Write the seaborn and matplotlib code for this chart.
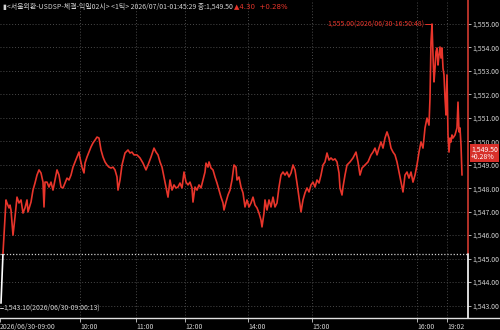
import matplotlib
matplotlib.use("Agg")
import matplotlib.pyplot as plt
import seaborn as sns
import pandas as pd
from matplotlib.patches import Rectangle
from matplotlib.lines import Line2D

# ---------------- data ----------------
tick_no = [1,3,5,6,7,9,10,11,13,15,17,19,21,23,25,27,28,30,31,33,35,37,39,41,43,44,45,47,49,51,53,55,57,59,61,63,65,67,69,71,73,75,77,79,80,82,84,85,87,89,91,93,95,97,99,101,103,105,107,109,111,113,115,117,118,120,122,125,128,130,132,134,137,140,143,146,148,151,154,156,158,160,162,164,166,168,170,172,174,176,178,180,182,184,186,188,190,192,193,195,197,199,201,203,205,206,208,209,211,213,215,217,219,221,223,224,226,228,230,232,234,236,237,239,241,243,245,247,249,251,253,255,257,259,261,262,264,265,267,269,271,273,275,277,279,281,283,285,287,289,291,293,295,297,299,301,303,305,307,309,311,313,315,317,319,321,323,325,327,329,331,333,335,337,339,340,342,343,345,347,350,353,356,358,360,362,365,368,371,373,375,377,379,381,383,385,387,389,391,393,395,397,399,401,403,405,407,409,411,413,415,417,419,421,423,425,427,429,430,431,432,433,434,435,436,437,438,439,440,441,442,443,444,445,446,447,448,449,450,451,452,453,455,457,458,459,460,461,462]
price = [1543.10,1545.24,1546.77,1547.50,1547.37,1547.16,1547.28,1547.07,1546.00,1546.77,1547.62,1547.37,1547.50,1546.94,1547.16,1547.50,1546.99,1547.28,1547.41,1547.92,1548.22,1548.56,1548.78,1548.65,1548.26,1547.20,1548.26,1548.26,1548.05,1548.26,1547.92,1548.35,1548.78,1548.56,1548.05,1548.01,1548.22,1548.43,1548.35,1548.56,1548.90,1549.12,1549.33,1549.54,1549.29,1548.90,1548.65,1549.07,1549.33,1549.54,1549.76,1549.93,1550.05,1550.18,1550.14,1549.63,1549.33,1549.12,1548.99,1548.90,1548.86,1548.90,1548.78,1548.48,1547.92,1548.35,1548.99,1549.50,1549.63,1549.50,1549.54,1549.42,1549.42,1549.29,1549.07,1548.78,1548.99,1549.33,1549.71,1549.54,1549.42,1549.12,1548.90,1548.48,1548.05,1547.62,1548.35,1547.92,1548.14,1548.01,1548.05,1548.22,1548.01,1548.69,1548.26,1548.14,1548.26,1548.01,1547.41,1548.05,1547.92,1548.14,1548.01,1548.35,1548.69,1549.07,1548.90,1549.12,1548.86,1548.78,1548.48,1548.22,1547.92,1547.62,1547.37,1547.07,1547.41,1547.71,1547.92,1548.35,1548.99,1548.90,1548.35,1548.48,1548.05,1547.80,1547.20,1547.50,1547.20,1547.37,1547.62,1547.28,1547.16,1546.94,1546.64,1546.35,1546.94,1547.50,1547.07,1547.50,1547.20,1547.62,1547.20,1547.37,1548.05,1548.56,1548.69,1548.56,1548.69,1548.48,1548.65,1548.99,1548.78,1548.22,1547.62,1546.99,1547.50,1547.80,1548.01,1547.84,1548.14,1548.26,1548.05,1548.35,1548.22,1548.56,1548.99,1549.12,1549.50,1549.20,1549.29,1549.20,1549.25,1549.12,1548.65,1548.01,1547.71,1548.05,1548.56,1548.99,1549.12,1549.29,1549.54,1549.12,1548.56,1548.86,1548.99,1549.12,1549.42,1549.54,1549.71,1549.42,1549.71,1549.97,1549.71,1550.14,1550.40,1550.14,1549.71,1549.54,1549.42,1549.12,1548.69,1548.26,1547.84,1548.56,1548.69,1548.43,1548.69,1548.26,1548.56,1548.99,1549.54,1549.97,1549.71,1550.57,1550.99,1550.69,1551.85,1554.23,1555.00,1553.68,1552.53,1553.12,1553.81,1553.98,1553.25,1553.68,1554.02,1553.55,1553.98,1553.12,1552.83,1551.85,1551.12,1552.83,1550.27,1549.54,1550.14,1549.97,1550.27,1550.14,1550.27,1550.57,1551.67,1550.40,1550.57,1549.84,1548.56]

time_ticks = [0, 80, 136, 185, 248, 312, 417, 447]
time_labels = ["2026/06/30-09:00", "10:00", "11:00", "12:00", "14:00", "15:00", "16:00", "19:02"]
price_ticks = [1543, 1544, 1545, 1546, 1547, 1548, 1549, 1550, 1551, 1552, 1553, 1554, 1555]
prev_close = 1545.20
last_price = 1549.50
change = 4.30
change_pct = 0.28
high_price = 1555.00
high_tick = 432
low_price = 1543.10
low_tick = 1

RED = "#e8352b"
GRID = "#4a4a4a"
TXT = "#d2d2d2"
FS = 5.0

# ---------------- figure ----------------
sns.set_theme(style="dark")
plt.rcParams['font.family'] = ['Noto Sans CJK KR', 'DejaVu Sans']
fig = plt.figure(figsize=(5, 3.3), dpi=100, facecolor="black")
ax = fig.add_axes([0, 12 / 330, 468 / 500, 318 / 330])
ax.set_facecolor("black")

ymin = 1543 - (318 - 305.5) / 23.46
ymax = 1555 + 24 / 23.46
ax.set_xlim(0, 468)
ax.set_ylim(ymin, ymax)

df = pd.DataFrame({"tick": tick_no, "price": price})
# white part (below previous close)
sns.lineplot(data=df, x="tick", y="price", ax=ax, color="white", lw=1.2,
             estimator=None, sort=False)
white_line = ax.lines[-1]
white_line.set_clip_path(Rectangle((0, ymin), 500, prev_close - ymin, transform=ax.transData))
sns.lineplot(data=df, x="tick", y="price", ax=ax, color=RED, lw=1.2,
             estimator=None, sort=False)
red_line = ax.lines[-1]
red_line.set_clip_path(Rectangle((0, prev_close), 500, 20, transform=ax.transData))

# grid
for p in price_ticks:
    ax.axhline(p, color=GRID, lw=0.7, ls=(0, (1, 2)), zorder=0)
for t in time_ticks[1:]:
    ax.axvline(t, color=GRID, lw=0.7, ls=(0, (1, 2)), zorder=0)
ax.axhline(prev_close, color="#cfcfcf", lw=0.9, ls=(0, (1, 1.5)), zorder=1)

for s in ax.spines.values():
    s.set_visible(False)

# right edge line: red above prev close, white below
ax.plot([468, 468], [prev_close, ymax], color="#d33a30", lw=1.2, clip_on=False)
ax.plot([468, 468], [ymin, prev_close], color="white", lw=1.2, clip_on=False)
# bottom axis line spans whole figure
fig.add_artist(Line2D([0, 1], [12.5 / 330, 12.5 / 330], color="#e0e0e0", lw=1.0))

# y ticks on right
ax.yaxis.tick_right()
ax.set_yticks(price_ticks)
ax.set_yticklabels([f"{p:,.2f}" for p in price_ticks])
ax.tick_params(axis="y", colors=TXT, labelsize=FS, length=2, width=0.6, pad=1.5, right=True)

# x ticks
ax.set_xticks(time_ticks)
ax.set_xticklabels(time_labels)
ax.tick_params(axis="x", colors=TXT, labelsize=FS, length=3, width=0.6, pad=0.5, bottom=True)
for lab in ax.get_xticklabels():
    lab.set_horizontalalignment("left")
ax.set_xlabel("")
ax.set_ylabel("")

# header text
hdr = ax.text(3, 1555.75, "▮<서울외환-USDSP-체결-익일02시> <1틱> 2026/07/01-01:45:29 종:1,549.50 ",
              color=TXT, fontsize=FS, va="center", ha="left")
fig.canvas.draw()
bb = hdr.get_window_extent()
inv = ax.transData.inverted()
x_end = inv.transform((bb.x1, bb.y0))[0]
ax.text(x_end, 1555.75, f"▲{change:.2f}  +{change_pct:.2f}%", color=RED, fontsize=FS,
        va="center", ha="left", family=['DejaVu Sans'])

# high annotation
ax.text(424, high_price, f"{high_price:,.2f}(2026/06/30-16:50:48)", color=RED, fontsize=FS,
        va="center", ha="right")
ax.plot([425, high_tick - 0.5, high_tick - 0.5], [high_price, high_price, high_price - 0.15],
        color=RED, lw=0.7)

# low annotation
ax.plot([0, 3], [low_price - 0.2, low_price - 0.2], color=TXT, lw=0.7)
ax.text(3.5, low_price - 0.2, f"{low_price:,.2f}(2026/06/30-09:00:13)", color=TXT, fontsize=FS,
        va="center", ha="left")

# current price tag
ax.text(471, last_price, f"{last_price:,.2f}\n+{change_pct:.2f}%", color="white", fontsize=FS,
        va="center", ha="left", linespacing=0.95, clip_on=False,
        bbox=dict(boxstyle="square,pad=0.15", facecolor="#d7302a", edgecolor="none"))

fig.savefig("out.png", dpi=100, facecolor="black")
